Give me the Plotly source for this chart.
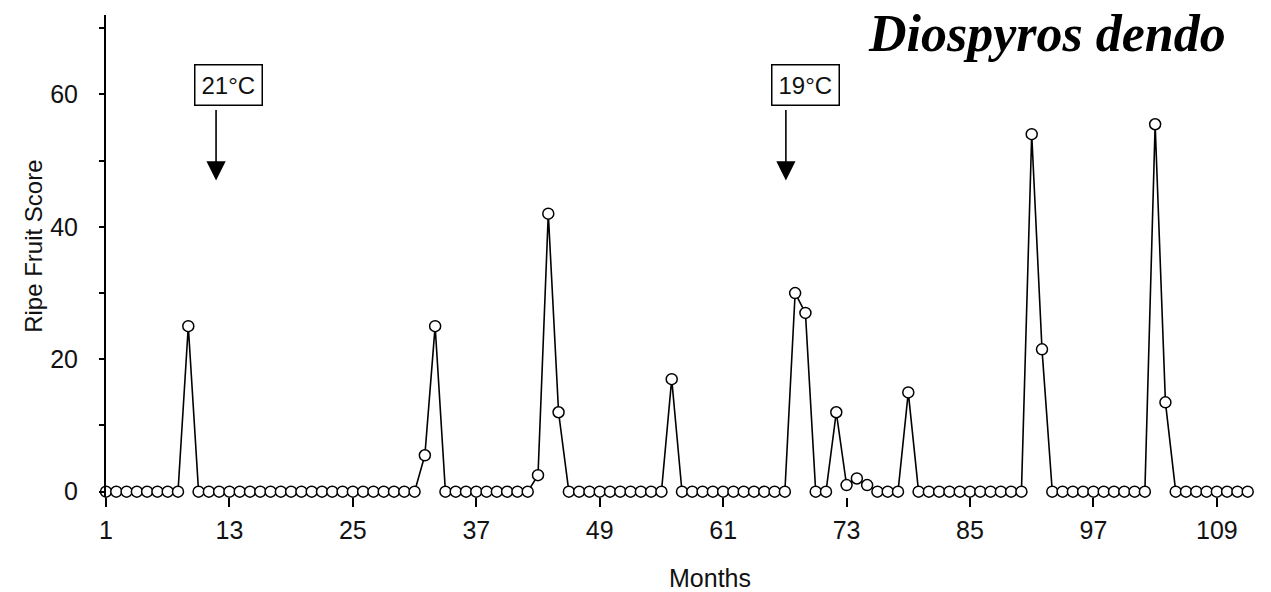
import plotly.graph_objects as go

# ---- data ----
months = list(range(1, 113))
peak_months = [9, 32, 33, 43, 44, 45, 56, 68, 69, 72, 73, 74, 75, 79, 91, 92, 103, 104]
peak_scores = [25, 5.5, 25, 2.5, 42, 12, 17, 30, 27, 12, 1, 2, 1, 15, 54, 21.5, 55.5, 13.5]
score_lookup = dict(zip(peak_months, peak_scores))
scores = [score_lookup.get(m, 0) for m in months]

x_tickvals = [1, 13, 25, 37, 49, 61, 73, 85, 97, 109]
y_tickvals = [0, 20, 40, 60]

title_text = "Diospyros dendo"
temp_labels = ["21°C", "19°C"]
arrow_months = [11.7, 67.1]
box_months = [12.9, 69.0]

FONT = "Liberation Sans"
INK = "#111111"

fig = go.Figure()
fig.add_trace(go.Scatter(
    x=months, y=scores, mode="lines+markers",
    line=dict(color="black", width=1.6),
    marker=dict(symbol="circle", size=11, color="white",
                line=dict(color="black", width=1.5)),
    cliponaxis=False, showlegend=False, hoverinfo="skip",
))

annotations = []
for lab, am, bm in zip(temp_labels, arrow_months, box_months):
    # arrow
    annotations.append(dict(
        x=am, y=47.0, xref="x", yref="y", text="", showarrow=True,
        ax=0, ay=-72, arrowhead=2, arrowsize=2.4, arrowwidth=1.6,
        arrowcolor="black",
    ))
    # boxed label
    annotations.append(dict(
        x=bm, y=61.4, xref="x", yref="y", text=lab, showarrow=False,
        font=dict(family=FONT, size=24, color=INK),
        bordercolor="black", borderwidth=1.5, borderpad=6,
        bgcolor="white", xanchor="center", yanchor="middle",
    ))

annotations.append(dict(
    x=0.974, y=1.0, xref="paper", yref="paper", yshift=-18,
    text=f"<b><i>{title_text}</i></b>", showarrow=False,
    font=dict(family="Liberation Serif", size=52, color="black"),
    xanchor="right", yanchor="middle",
))
annotations.append(dict(
    x=-0.0625, y=0.519, xref="paper", yref="paper", text="Ripe Fruit Score",
    textangle=-90, showarrow=False,
    font=dict(family=FONT, size=24, color=INK),
    xanchor="center", yanchor="middle",
))
annotations.append(dict(
    x=0.524, y=-0.168, xref="paper", yref="paper", text="Months",
    showarrow=False, font=dict(family=FONT, size=25, color=INK),
    xanchor="center", yanchor="middle",
))

fig.update_layout(
    width=1271, height=592,
    margin=dict(l=106, r=13, t=15, b=95),
    paper_bgcolor="white", plot_bgcolor="white",
    annotations=annotations,
    xaxis=dict(
        range=[1, 113], tickvals=x_tickvals, ticks="outside", ticklen=9,
        tickwidth=1.5, tickcolor="black", showline=False, showgrid=False,
        zeroline=False, ticklabelstandoff=2,
        tickfont=dict(family=FONT, size=25, color=INK),
    ),
    yaxis=dict(
        range=[-0.8, 72], tickvals=y_tickvals, ticks="outside", ticklen=5,
        tickwidth=1.5, tickcolor="black", showline=True, linecolor="black",
        linewidth=2, showgrid=False, zeroline=False, ticklabelstandoff=16,
        minor=dict(dtick=10, tick0=0, ticks="outside", ticklen=5,
                   tickcolor="black", showgrid=False),
        tickfont=dict(family=FONT, size=25, color=INK),
    ),
)

fig.write_html(
    "out.html",
    config={"displayModeBar": False},
    post_script="document.body.style.margin='0';document.body.style.overflow='hidden';",
)
